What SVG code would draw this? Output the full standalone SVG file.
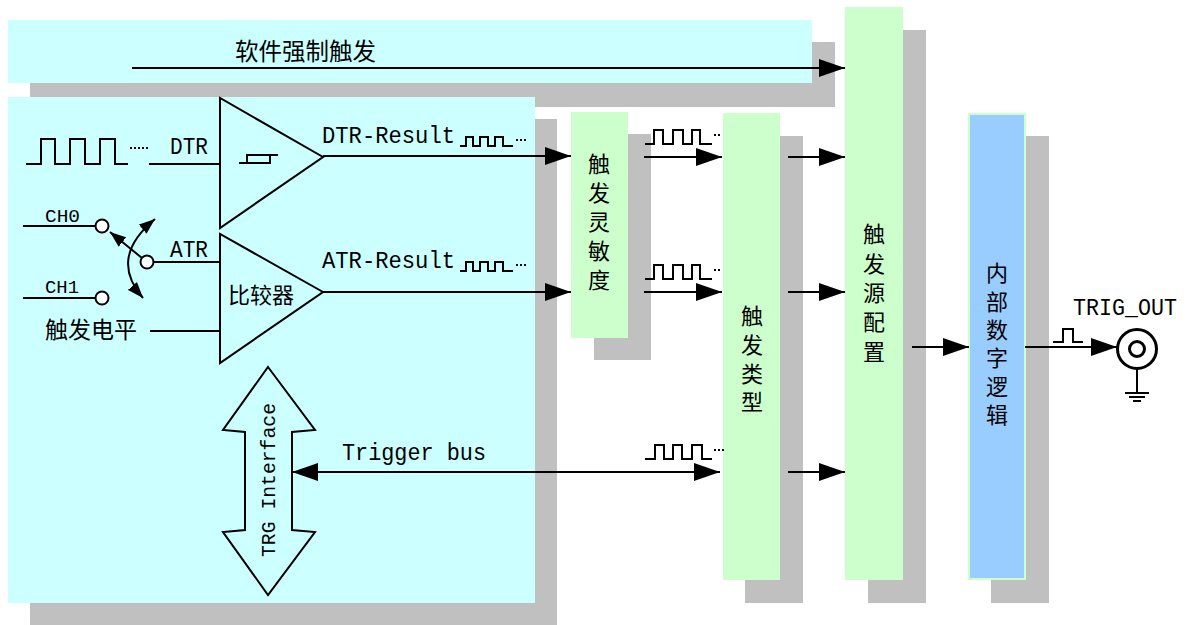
<svg xmlns="http://www.w3.org/2000/svg" width="1186" height="625" viewBox="0 0 1186 625">
<defs>
<style>
.sh{fill:#c0c0c0}
.cy{fill:#ccffff}
.gr{fill:#ccffcc}
.bl{fill:#99ccff;stroke:#ccffcc;stroke-width:2}
.ln{fill:none;stroke:#000;stroke-width:2}
.wv{fill:none;stroke:#000;stroke-width:2}
.dt{fill:none;stroke:#000;stroke-width:2;stroke-dasharray:2 2}
.cn{font-family:"Noto Sans CJK SC","Noto Sans CJK JP",sans-serif;fill:#000}
.vt{font-family:"Noto Sans CJK SC","Noto Sans CJK JP",sans-serif;fill:#000;font-size:22px;writing-mode:vertical-rl;text-orientation:upright}
.mo{font-family:"Liberation Mono","DejaVu Sans Mono",monospace;fill:#000}
</style>
<marker id="ah" markerUnits="userSpaceOnUse" markerWidth="26" markerHeight="18" refX="26" refY="9" orient="auto-start-reverse" viewBox="0 0 26 18">
<path d="M0,0 L26,9 L0,18 z" fill="#000"/>
</marker>
<marker id="as" markerUnits="userSpaceOnUse" markerWidth="16" markerHeight="12" refX="16" refY="6" orient="auto-start-reverse" viewBox="0 0 16 12">
<path d="M0,0 L16,6 L0,12 z" fill="#000"/>
</marker>
</defs>
<rect width="1186" height="625" fill="#fff"/>

<g id="soft-trigger">
<rect class="sh" x="30" y="42" width="805" height="65"/>
<rect class="cy" x="8" y="20" width="804" height="63"/>
<text class="cn" x="235" y="60" font-size="23.5">软件强制触发</text>
</g>

<g id="front-end">
<rect class="sh" x="30" y="119" width="527" height="506"/>
<rect class="cy" x="8" y="97" width="527" height="506"/>
<g id="dtr-comparator">
<polygon class="ln" points="220,98 220,228 323,157"/>
<path class="ln" d="M239,163 H270 V155 M247,163 V155 H278"/>
</g>
<g id="atr-comparator">
<polygon class="ln" points="220,234 220,363 323,292"/>
<text class="cn" x="228" y="303" font-size="22">比较器</text>
</g>
<path class="wv" d="M26,164 H41 V139 H55 V164 H70 V139 H85 V164 H100 V139 H115 V164 H128"/>
<path class="dt" d="M130,148 H148"/>
<path class="ln" d="M149,164 H219"/>
<text class="mo" x="170" y="154" font-size="23" textLength="38" lengthAdjust="spacingAndGlyphs">DTR</text>
<text class="mo" x="45" y="222" font-size="19" textLength="35" lengthAdjust="spacingAndGlyphs">CH0</text>
<text class="mo" x="45" y="293" font-size="19" textLength="34" lengthAdjust="spacingAndGlyphs">CH1</text>
<path class="ln" d="M23,226 H96 M23,298 H96 M154,262 H219 M150,331 H219"/>
<circle cx="102" cy="226" r="6.5" fill="#fff" stroke="#000" stroke-width="2"/>
<circle cx="102" cy="298" r="6.5" fill="#fff" stroke="#000" stroke-width="2"/>
<circle cx="147" cy="262" r="6.5" fill="#fff" stroke="#000" stroke-width="2"/>
<path class="ln" d="M142,258 L110,232" marker-end="url(#as)"/>
<path class="ln" d="M155,219 Q108,258 143,298" marker-start="url(#as)" marker-end="url(#as)"/>
<text class="mo" x="170" y="257" font-size="23" textLength="38" lengthAdjust="spacingAndGlyphs">ATR</text>
<text class="cn" x="45" y="338" font-size="23">触发电平</text>
<text class="mo" x="322" y="143" font-size="23" textLength="133" lengthAdjust="spacingAndGlyphs">DTR-Result</text>
<text class="mo" x="322" y="268" font-size="23" textLength="133" lengthAdjust="spacingAndGlyphs">ATR-Result</text>
<g id="trg-interface">
<polygon class="ln" points="268,367 315,430 292,432 292,530 315,532 268,595 223,532 245,530 245,432 223,430"/>
<text class="mo" transform="translate(275,480) rotate(-90)" text-anchor="middle" font-size="21" textLength="154" lengthAdjust="spacingAndGlyphs">TRG Interface</text>
</g>
<text class="mo" x="342" y="460" font-size="23" textLength="144" lengthAdjust="spacingAndGlyphs">Trigger bus</text>
</g>

<g id="sensitivity">
<rect class="sh" x="594" y="134" width="57" height="226"/>
<rect class="gr" x="571" y="112" width="57" height="226"/>
<text class="vt" x="599" y="153" letter-spacing="7">触发灵敏度</text>
</g>

<g id="trigger-type">
<rect class="sh" x="745" y="136" width="58" height="467"/>
<rect class="gr" x="723" y="113" width="57" height="467"/>
<text class="vt" x="752" y="305" letter-spacing="6.7">触发类型</text>
</g>

<g id="source-config">
<rect class="sh" x="868" y="30" width="58" height="573"/>
<rect class="gr" x="845" y="7" width="58" height="573"/>
<text class="vt" x="874" y="223" letter-spacing="7.3">触发源配置</text>
</g>

<g id="digital-logic">
<rect class="sh" x="991" y="136" width="58" height="467"/>
<rect class="bl" x="969" y="114" width="56" height="465"/>
<text class="vt" x="997" y="262" letter-spacing="6.3">内部数字逻辑</text>
</g>

<g id="trig-out">
<circle cx="1137" cy="349" r="19.5" fill="#fff" stroke="#000" stroke-width="3"/>
<circle cx="1137" cy="349" r="7.5" fill="none" stroke="#000" stroke-width="3"/>
<path class="ln" d="M1137,369 V393 M1125,393 H1149 M1129,397 H1145 M1133,401 H1141"/>
<text class="mo" x="1073" y="315" font-size="23" textLength="104" lengthAdjust="spacingAndGlyphs">TRIG_OUT</text>
</g>

<g id="connectors">
<path class="ln" d="M132,68 H845" marker-end="url(#ah)"/>
<path class="ln" d="M323,156 H571" marker-end="url(#ah)"/>
<path class="ln" d="M323,292 H571" marker-end="url(#ah)"/>
<path class="ln" d="M644,157 H722" marker-end="url(#ah)"/>
<path class="ln" d="M644,292 H722" marker-end="url(#ah)"/>
<path class="ln" d="M788,157 H845" marker-end="url(#ah)"/>
<path class="ln" d="M788,292 H845" marker-end="url(#ah)"/>
<path class="ln" d="M788,472 H845" marker-end="url(#ah)"/>
<path class="ln" d="M292,472 H720" marker-start="url(#ah)" marker-end="url(#ah)"/>
<path class="ln" d="M912,347 H969" marker-end="url(#ah)"/>
<path class="ln" d="M1025,347 H1117" marker-end="url(#ah)"/>
<path class="wv" d="M460,146 H466 V137 H473 V146 H480 V137 H488 V146 H495 V137 H503 V146 H513"/>
<path class="dt" d="M516,140 H526"/>
<path class="wv" d="M460,271 H466 V262 H473 V271 H480 V262 H488 V271 H495 V262 H503 V271 H513"/>
<path class="dt" d="M516,265 H526"/>
<path class="wv" d="M645,144 H654 V130 H663 V144 H673 V130 H683 V144 H692 V130 H700 V144 H712"/>
<path class="dt" d="M714,135 H722"/>
<path class="wv" d="M645,279 H654 V265 H663 V279 H673 V265 H683 V279 H692 V265 H700 V279 H712"/>
<path class="dt" d="M714,270 H722"/>
<path class="wv" d="M645,459 H655 V445 H664 V459 H673 V445 H682 V459 H692 V445 H702 V459 H712"/>
<path class="dt" d="M714,450 H724"/>
<path class="wv" d="M1053,342 H1063 V329 H1073 V342 H1083"/>
</g>
</svg>
